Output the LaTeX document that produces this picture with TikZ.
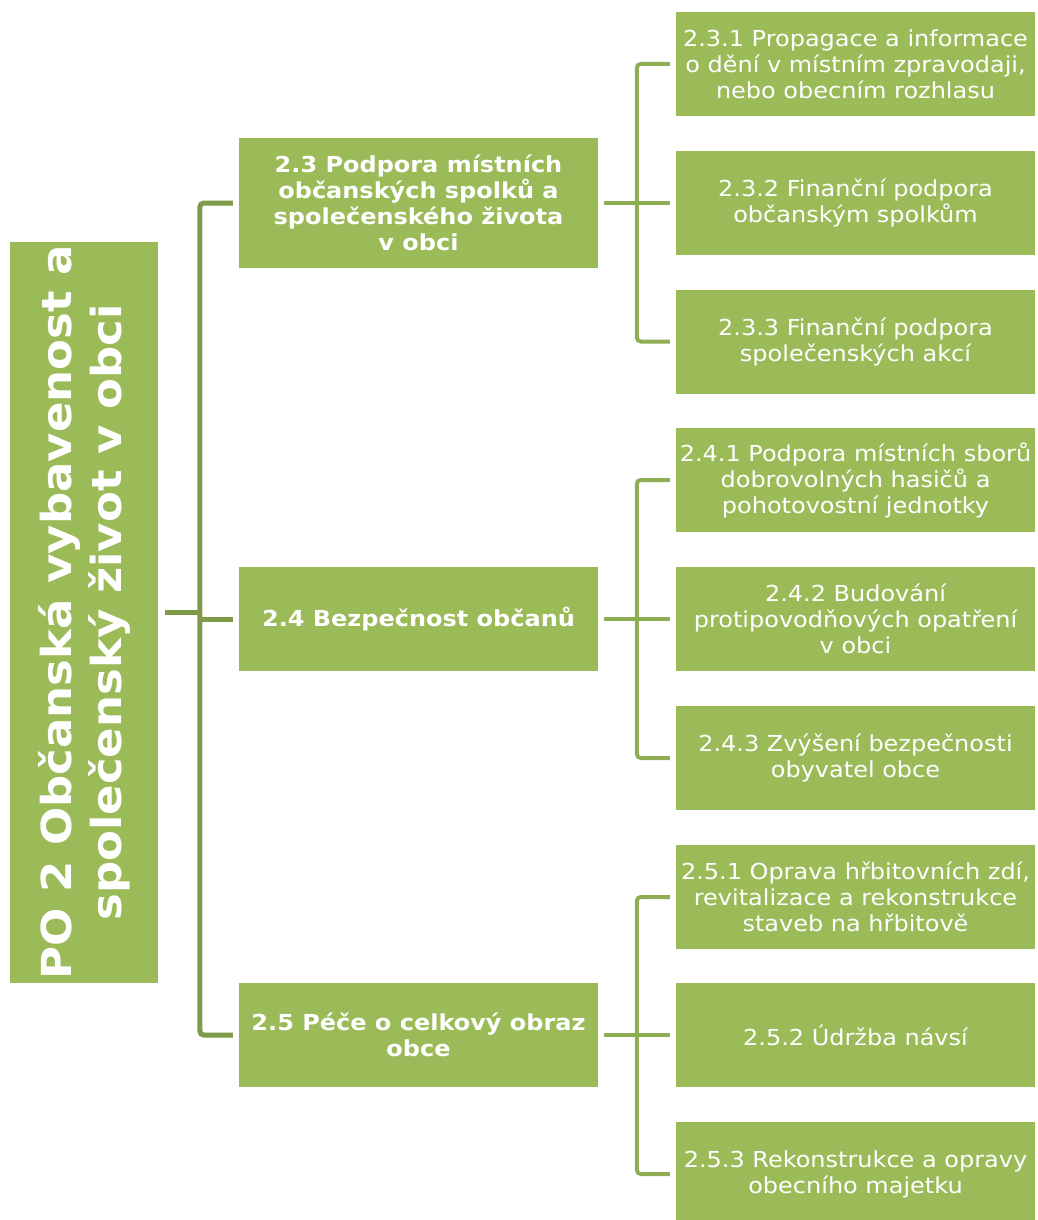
\documentclass[tikz,border=0pt]{standalone}
\usepackage{fontspec}
\setmainfont{DejaVu Sans}[FakeStretch=1.09]
\definecolor{boxg}{HTML}{9BBB59}
\definecolor{lineA}{HTML}{7F9A48}
\definecolor{lineB}{HTML}{8FAD52}
\tikzset{
  gbox/.style={fill=boxg, text=white, inner sep=0pt, align=center,
    minimum width=359pt, minimum height=104pt,
    font=\fontsize{22}{26}\selectfont},
  lvone/.style={gbox, font=\bfseries\fontsize{22}{26}\selectfont},
  rootbox/.style={fill=boxg, text=white, inner sep=0pt, align=center,
    minimum width=741pt, minimum height=148pt, rotate=90,
    font=\bfseries\fontsize{41.3}{50}\selectfont},
  conA/.style={draw=lineA, line width=5pt, rounded corners=4pt},
  conB/.style={draw=lineB, line width=4pt, rounded corners=4pt}
}
\begin{document}
\begin{tikzpicture}[x=1pt,y=-1pt]
\useasboundingbox (0,0) rectangle (1037,1220);
\node[rootbox] (root) at (84,612.5) {PO 2 Občanská vybavenost a\\společenský život v obci};
\node[lvone, minimum height=130pt] (l23) at (418.5,203) {2.3 Podpora místních\\občanských spolků a\\společenského života\\v obci};
\node[lvone] (l24) at (418.5,619) {2.4 Bezpečnost občanů};
\node[lvone] (l25) at (418.5,1035) {2.5 Péče o celkový obraz\\obce};
\node[gbox] (c231) at (855.5,64) {2.3.1 Propagace a informace\\o dění v místním zpravodaji,\\nebo obecním rozhlasu};
\node[gbox] (c232) at (855.5,203) {2.3.2 Finanční podpora\\občanským spolkům};
\node[gbox] (c233) at (855.5,341.5) {2.3.3 Finanční podpora\\společenských akcí};
\node[gbox] (c241) at (855.5,480) {2.4.1 Podpora místních sborů\\dobrovolných hasičů a\\pohotovostní jednotky};
\node[gbox] (c242) at (855.5,619) {2.4.2 Budování\\protipovodňových opatření\\v obci};
\node[gbox] (c243) at (855.5,758) {2.4.3 Zvýšení bezpečnosti\\obyvatel obce};
\node[gbox] (c251) at (855.5,897) {2.5.1 Oprava hřbitovních zdí,\\revitalizace a rekonstrukce\\staveb na hřbitově};
\node[gbox] (c252) at (855.5,1035) {2.5.2 Údržba návsí};
\node[gbox] (c253) at (855.5,1174) {2.5.3 Rekonstrukce a opravy\\obecního majetku};
% root to level one
\draw[conA] ([xshift=-6pt]l23.west) -| ([xshift=-39pt]l25.west) -- ([xshift=-6pt]l25.west);
\draw[conA] ([xshift=-6pt]l24.west) -- ([xshift=-39pt]l24.west);
\draw[conA] ([xshift=7pt]root.south) -- ++(35,0);
% level one to level two
\foreach \p/\a/\b/\c in {l23/c231/c232/c233, l24/c241/c242/c243, l25/c251/c252/c253}{
  \draw[conB] ([xshift=-6pt]\a.west) -| ([xshift=-39pt]\c.west) -- ([xshift=-6pt]\c.west);
  \draw[conB] ([xshift=6pt]\p.east) -- ([xshift=-6pt]\b.west);
}
\end{tikzpicture}
\end{document}
